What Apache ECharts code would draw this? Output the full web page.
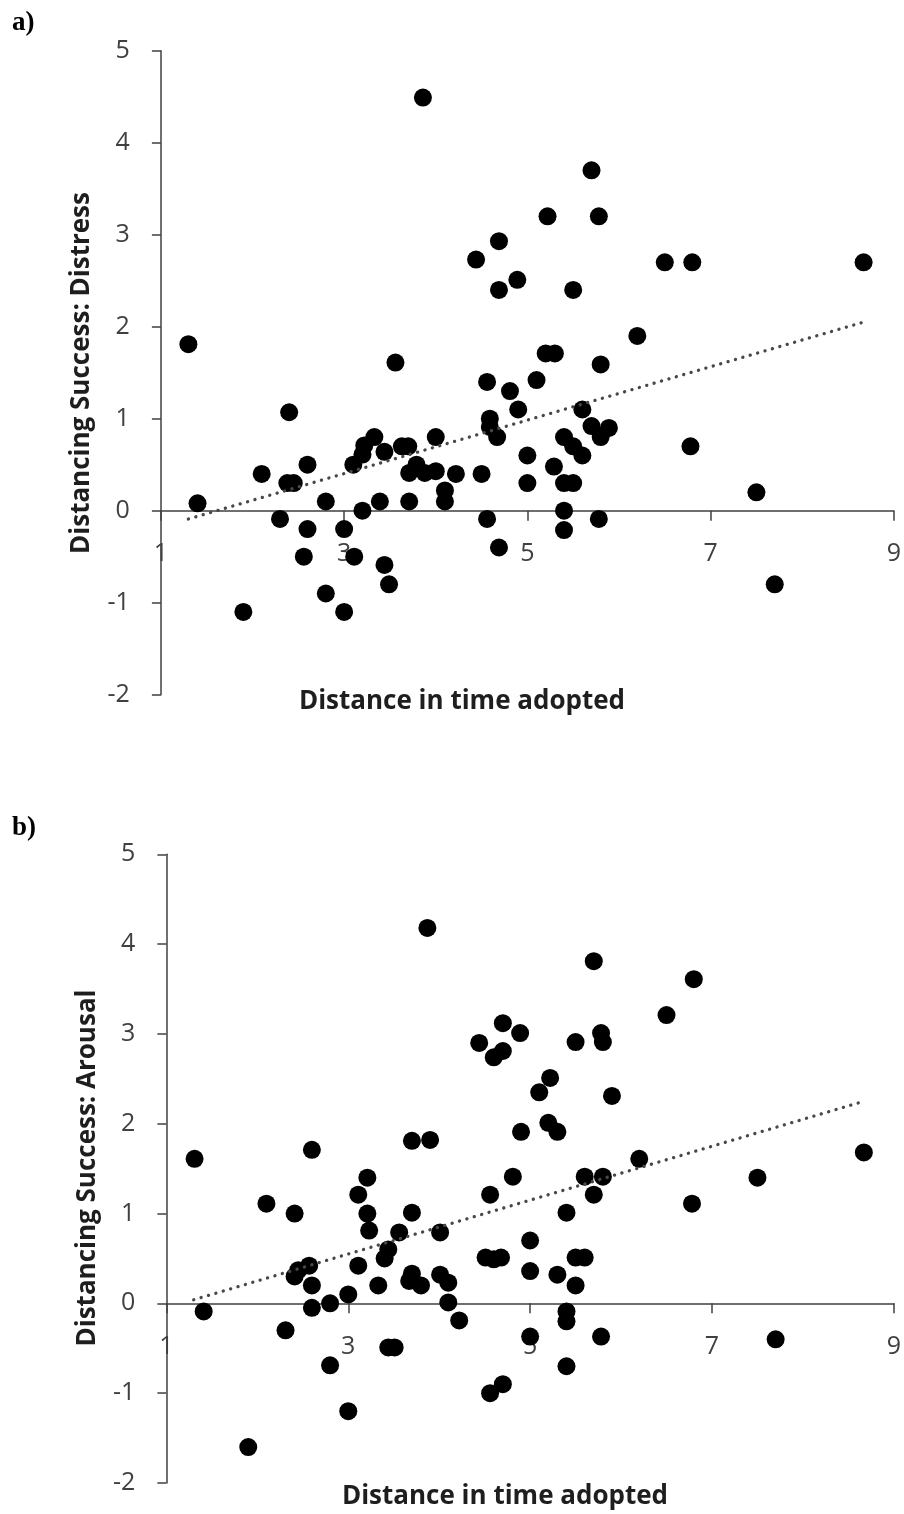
<!DOCTYPE html>
<html>
<head>
<meta charset="utf-8">
<style>
  html, body { margin: 0; padding: 0; background: #ffffff; }
  #chart { width: 904px; height: 1514px; }
</style>
<script src="https://cdn.jsdelivr.net/npm/echarts@6/dist/echarts.min.js"></script>
</head>
<body>
<div id="chart"></div>
<script>
// ---- Data ----
// Panel a) Distance in time adopted vs Distancing Success: Distress
const distanceA = [1.30,1.40,1.90,2.10,2.30,2.40,2.38,2.45,2.56,2.60,2.60,2.80,2.80,3.00,3.00,3.10,3.11,3.20,3.20,3.22,3.33,3.39,3.44,3.44,3.49,3.56,3.63,3.70,3.71,3.71,3.79,3.86,3.88,4.00,4.00,4.10,4.10,4.22,4.44,4.50,4.56,4.56,4.59,4.59,4.67,4.69,4.69,4.69,4.81,4.89,4.90,5.00,5.00,5.10,5.20,5.22,5.29,5.30,5.40,5.40,5.40,5.40,5.50,5.50,5.50,5.60,5.60,5.70,5.70,5.78,5.78,5.80,5.80,5.89,6.20,6.50,6.78,6.80,7.50,7.70,8.67];
const distressA = [1.81,0.08,-1.10,0.40,-0.09,1.07,0.30,0.30,-0.50,0.50,-0.20,0.10,-0.90,-0.20,-1.10,0.50,-0.50,0.61,0.00,0.71,0.80,0.10,0.64,-0.59,-0.80,1.61,0.70,0.70,0.41,0.10,0.50,4.49,0.41,0.80,0.43,0.22,0.10,0.40,2.73,0.40,1.40,-0.09,1.00,0.91,0.80,2.93,2.40,-0.40,1.30,2.51,1.10,0.60,0.30,1.42,1.71,3.20,0.48,1.71,0.80,0.30,0.00,-0.21,2.40,0.70,0.30,1.10,0.60,3.70,0.92,3.20,-0.09,1.59,0.80,0.90,1.90,2.70,0.70,2.70,0.20,-0.80,2.70];
const trendAx = [1.30, 8.67];
const trendAy = [-0.09, 2.05];

// Panel b) Distance in time adopted vs Distancing Success: Arousal
const distanceB = [1.31,1.41,1.90,2.10,2.31,2.41,2.41,2.45,2.57,2.60,2.60,2.60,2.80,2.80,3.00,3.00,3.11,3.11,3.21,3.21,3.23,3.33,3.40,3.44,3.44,3.51,3.56,3.67,3.70,3.70,3.70,3.80,3.87,3.90,4.01,4.01,4.10,4.10,4.22,4.44,4.51,4.56,4.56,4.60,4.60,4.68,4.70,4.70,4.70,4.81,4.89,4.90,5.00,5.00,5.00,5.10,5.20,5.22,5.30,5.30,5.40,5.40,5.40,5.40,5.50,5.50,5.50,5.60,5.60,5.70,5.70,5.78,5.78,5.80,5.80,5.90,6.20,6.50,6.78,6.80,7.50,7.70,8.67];
const arousalB = [1.61,-0.09,-1.60,1.11,-0.30,1.00,0.30,0.37,0.42,1.71,0.20,-0.05,0.00,-0.69,0.10,-1.20,1.21,0.42,1.40,1.00,0.81,0.20,0.50,0.60,-0.49,-0.49,0.79,0.25,1.81,1.01,0.33,0.20,4.18,1.82,0.79,0.32,0.23,0.01,-0.19,2.90,0.51,1.21,-1.00,2.74,0.49,0.51,3.12,2.81,-0.90,1.41,3.01,1.91,0.70,0.36,-0.37,2.35,2.01,2.51,1.91,0.32,1.01,-0.09,-0.20,-0.70,2.91,0.51,0.20,1.41,0.51,3.81,1.21,3.01,-0.37,2.91,1.41,2.31,1.61,3.21,1.11,3.61,1.40,-0.40,1.68];
const trendBx = [1.30, 8.67];
const trendBy = [0.04, 2.25];

// Axis ranges / tick labels
const xTicks = [1, 3, 5, 7, 9];
const yTicks = [-2, -1, 0, 1, 2, 3, 4, 5];

const panelLabels = ['a)', 'b)'];
const xTitle = 'Distance in time adopted';
const yTitles = ['Distancing Success: Distress', 'Distancing Success: Arousal'];

// ---- Build the chart ----
const zip = (xs, ys) => xs.map((v, i) => [v, ys[i]]);

const axisColor = '#404040';
const labelFont = 'Open Sans';
const grids = [
  { left: 160.9, top: 50.7, width: 733.8, height: 644 },
  { left: 166.4, top: 854.3, width: 729.3, height: 628.7 }
];
const yMin = yTicks[0], yMax = yTicks[yTicks.length - 1];

function makeX(gridIndex) {
  // place the x axis (line, ticks and labels together) at y = 0
  const zeroOffset = -grids[gridIndex].height * (0 - yMin) / (yMax - yMin);
  return {
    type: 'value', gridIndex, position: 'bottom', offset: zeroOffset,
    min: xTicks[0], max: xTicks[xTicks.length - 1], interval: xTicks[1] - xTicks[0],
    axisLine: { show: true, onZero: false, lineStyle: { color: axisColor, width: 1.5 } },
    axisTick: { show: true, length: 10, lineStyle: { color: axisColor, width: 1.5 } },
    splitLine: { show: false },
    axisLabel: { margin: 31, fontSize: 25, color: axisColor, fontFamily: labelFont }
  };
}
function makeY(gridIndex) {
  return {
    type: 'value', gridIndex,
    min: yMin, max: yMax, interval: yTicks[1] - yTicks[0],
    axisLine: { show: true, onZero: false, lineStyle: { color: axisColor, width: 1.5 } },
    axisTick: { show: true, length: 9, lineStyle: { color: axisColor, width: 1.5 } },
    splitLine: { show: false },
    axisLabel: { margin: 31, fontSize: 25, color: axisColor, fontFamily: labelFont }
  };
}
function scatter(i, data) {
  return {
    type: 'scatter', xAxisIndex: i, yAxisIndex: i, data,
    symbol: 'circle', symbolSize: 18,
    itemStyle: { color: '#000000', opacity: 1 },
    emphasis: { disabled: true }, z: 2
  };
}
function trend(i, data) {
  return {
    type: 'line', xAxisIndex: i, yAxisIndex: i, data,
    symbol: 'none', silent: true, z: 3,
    lineStyle: { color: '#484848', width: 3.3, type: [0.1, 7.6], cap: 'round' }
  };
}

const titleFont = 'bold 26px "Open Sans"';
const chart = echarts.init(document.getElementById('chart'), null, { renderer: 'canvas' });
chart.setOption({
  animation: false,
  backgroundColor: '#ffffff',
  grid: grids,
  xAxis: [makeX(0), makeX(1)],
  yAxis: [makeY(0), makeY(1)],
  series: [
    scatter(0, zip(distanceA, distressA)),
    trend(0, zip(trendAx, trendAy)),
    scatter(1, zip(distanceB, arousalB)),
    trend(1, zip(trendBx, trendBy))
  ],
  graphic: [
    { type: 'text', x: 12, y: 10, style: { text: panelLabels[0], font: 'bold 27px "Liberation Serif"', fill: '#000', align: 'left', verticalAlign: 'top' } },
    { type: 'text', x: 12, y: 815, style: { text: panelLabels[1], font: 'bold 27px "Liberation Serif"', fill: '#000', align: 'left', verticalAlign: 'top' } },
    { type: 'text', x: 462, y: 702, style: { text: xTitle, font: titleFont, fill: '#1e1e1e', align: 'center', verticalAlign: 'middle' } },
    { type: 'text', x: 505, y: 1497, style: { text: xTitle, font: titleFont, fill: '#1e1e1e', align: 'center', verticalAlign: 'middle' } },
    { type: 'text', x: 82, y: 373, rotation: Math.PI / 2, style: { text: yTitles[0], font: titleFont, fill: '#1e1e1e', align: 'center', verticalAlign: 'middle' } },
    { type: 'text', x: 88, y: 1168, rotation: Math.PI / 2, style: { text: yTitles[1], font: titleFont, fill: '#1e1e1e', align: 'center', verticalAlign: 'middle' } }
  ]
});
</script>
</body>
</html>
